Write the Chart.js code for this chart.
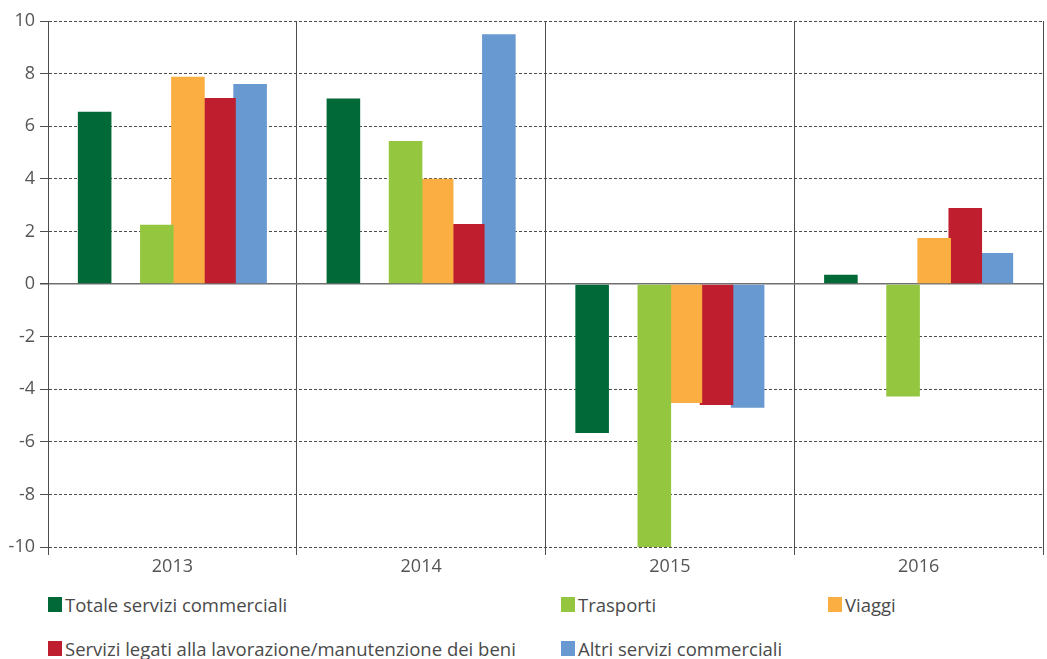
<!DOCTYPE html>
<html lang="it">
<head>
    <meta charset="UTF-8">
    <title>Servizi commerciali</title>
    <script src="https://cdn.jsdelivr.net/npm/chart.js"></script>
    <style>
        html, body {
            margin: 0;
            padding: 0;
            background: #ffffff;
            font-family: "Open Sans", sans-serif;
        }

        .chart-container {
            position: relative;
            width: 1047px;
            height: 580px;
        }

        .legend {
            position: absolute;
            left: 48px;
            top: 592px;
            display: grid;
            grid-template-columns: 513px 267px auto;
            row-gap: 20px;
            font-size: 18.5px;
            color: #4a4a4a;
        }

        .legend-item {
            display: flex;
            align-items: center;
            height: 24px;
        }

        .legend-box {
            width: 14px;
            height: 15px;
            margin-right: 3px;
        }
    </style>
</head>
<body>
    <div class="chart-container">
        <canvas id="chart"></canvas>
    </div>
    <div class="legend" id="legend"></div>

    <script>
        const years = ['2013', '2014', '2015', '2016'];

        const totale = [6.55, 7.05, -5.67, 0.35];
        const trasporti = [2.25, 5.44, -10, -4.28];
        const viaggi = [7.88, 4.0, -4.52, 1.75];
        const lavorazione = [7.07, 2.28, -4.6, 2.89];
        const altri = [7.6, 9.5, -4.71, 1.18];

        const seriesNames = [
            'Totale servizi commerciali',
            'Trasporti',
            'Viaggi',
            'Servizi legati alla lavorazione/manutenzione dei beni',
            'Altri servizi commerciali'
        ];
        const seriesColors = ['#006937', '#94c640', '#fbae42', '#be1e2d', '#6899d1'];
        const yTicks = [-10, -8, -6, -4, -2, 0, 2, 4, 6, 8, 10];

        const seriesData = [totale, trasporti, viaggi, lavorazione, altri];

        // the source chart leaves an empty slot after the first series
        const datasets = [];
        seriesData.forEach((values, i) => {
            datasets.push({
                label: seriesNames[i],
                data: values,
                backgroundColor: seriesColors[i]
            });
            if (i === 0) {
                datasets.push({ label: '', data: years.map(() => null) });
            }
        });

        const gridGrey = '#4d4d4d';

        const ctx = document.getElementById('chart').getContext('2d');
        const chart = new Chart(ctx, {
            type: 'bar',
            data: {
                labels: years,
                datasets: datasets
            },
            options: {
                responsive: true,
                maintainAspectRatio: false,
                animation: false,
                categoryPercentage: 0.75,
                barPercentage: 1.08,
                layout: {
                    padding: { left: 0, right: 4, top: 21, bottom: 0 }
                },
                plugins: {
                    legend: { display: false },
                    tooltip: { enabled: false }
                },
                scales: {
                    x: {
                        offset: true,
                        grid: {
                            offset: true,
                            color: gridGrey,
                            lineWidth: 1,
                            tickLength: 8,
                            tickColor: gridGrey
                        },
                        border: { display: false },
                        ticks: {
                            color: '#555555',
                            font: { family: 'Open Sans', size: 18 },
                            padding: 1
                        },
                        afterFit: (scale) => { scale.height = 33; }
                    },
                    y: {
                        min: -10,
                        max: 10,
                        afterBuildTicks: (scale) => {
                            scale.ticks = yTicks.map(v => ({ value: v }));
                        },
                        grid: {
                            color: (c) => c.tick && c.tick.value === 0 ? '#707070' : gridGrey,
                            lineWidth: (c) => c.tick && c.tick.value === 0 ? 1.5 : 1,
                            tickLength: 8,
                            tickColor: gridGrey,
                            tickBorderDash: []
                        },
                        border: {
                            display: true,
                            color: gridGrey,
                            width: 1,
                            dash: (c) => c.tick && c.tick.value === 0 ? [] : [3, 2]
                        },
                        ticks: {
                            color: '#555555',
                            font: { family: 'Open Sans', size: 18 },
                            padding: 5
                        },
                        afterFit: (scale) => { scale.width = 48; }
                    }
                }
            }
        });

        // legend laid out in three columns like the original
        const legendEl = document.getElementById('legend');
        seriesNames.forEach((name, i) => {
            const item = document.createElement('div');
            item.className = 'legend-item';
            item.innerHTML = `<span class="legend-box" style="background:${seriesColors[i]}"></span>${name}`;
            legendEl.appendChild(item);
        });
    </script>
</body>
</html>
